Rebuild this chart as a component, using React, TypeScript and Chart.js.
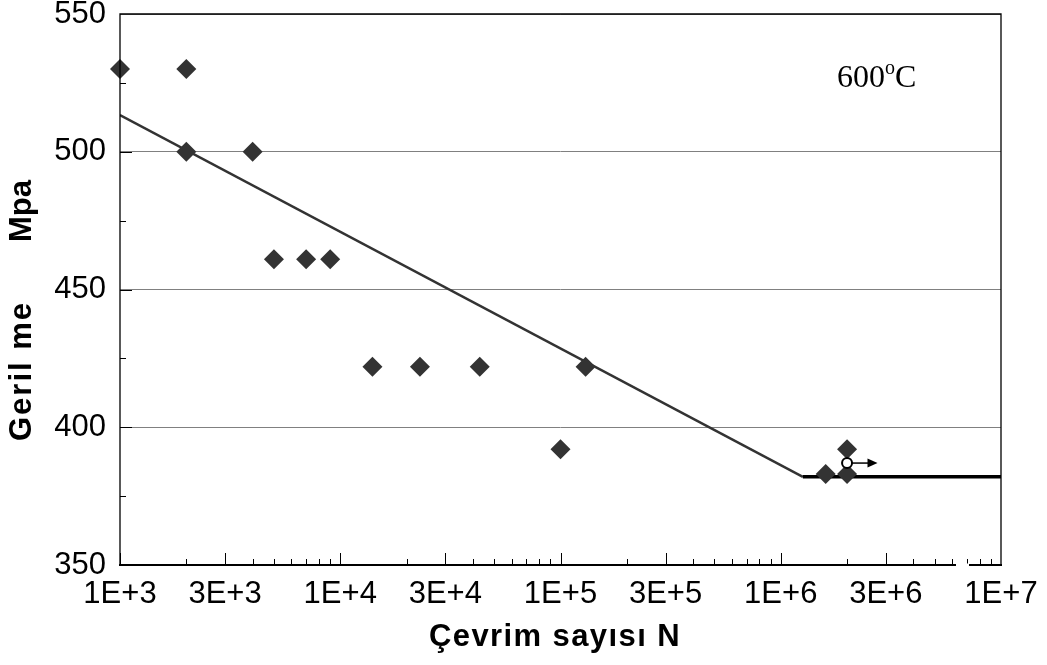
import React, { useEffect, useRef } from "react";
import { Chart, registerables } from "chart.js";

Chart.register(...registerables);

// Fatigue data (cycles N, stress MPa)
const cyclesN = [1000, 2000, 2000, 4000, 5000, 7000, 9000, 14000, 23000, 43000, 130000, 100000, 1600000, 2000000, 2000000];
const stressMPa = [530, 530, 500, 500, 461, 461, 461, 422, 422, 422, 422, 392, 383, 383, 392];

// Fitted S-N line and endurance plateau
const fitN = [1000, 1260000];
const fitS = [513.3, 382];
const plateauN = [1260000, 10000000];
const plateauS = [382, 382];

// Run-out specimen (open circle with arrow)
const runoutN = [2000000];
const runoutS = [387];
const runoutArrowEndN = 2750000;

// Axis ticks
const xTickValues = [1e3, 3e3, 1e4, 3e4, 1e5, 3e5, 1e6, 3e6, 1e7];
const yTickValues = [350, 400, 450, 500, 550];

const tempLabel = { n: 1800000, s: 523.5 };

const toPts = (xs: number[], ys: number[]) => xs.map((x, i) => ({ x, y: ys[i] }));

const fmtSci = (v: number) => {
  const e = Math.floor(Math.log10(v) + 1e-9);
  const m = Math.round(v / Math.pow(10, e));
  return `${m}E+${e}`;
};

const decorPlugin = {
  id: "decor",
  afterDraw(chart: any) {
    const { ctx, chartArea, scales } = chart;
    const { left, right, top, bottom } = chartArea;
    const xs = scales.x;
    const ys = scales.y;
    ctx.save();
    // minor/major ticks on x (inward)
    ctx.strokeStyle = "#000";
    ctx.lineWidth = 1;
    for (let e = 3; e < 7; e++) {
      for (let m = 1; m <= 9; m++) {
        const v = m * Math.pow(10, e);
        const px = Math.round(xs.getPixelForValue(v)) + 0.5;
        const len = m === 1 || m === 3 ? 12 : 6;
        ctx.beginPath();
        ctx.moveTo(px, bottom);
        ctx.lineTo(px, bottom - len);
        ctx.stroke();
      }
    }
    // y ticks (inward)
    for (let v = 375; v < 550; v += 25) {
      const py = Math.round(ys.getPixelForValue(v)) + 0.5;
      const len = v % 50 === 0 ? 12 : 6;
      ctx.beginPath();
      ctx.moveTo(left, py);
      ctx.lineTo(left + len, py);
      ctx.stroke();
    }
    // frame
    ctx.lineWidth = 1.3;
    ctx.beginPath();
    ctx.moveTo(left, bottom);
    ctx.lineTo(left, top);
    ctx.lineTo(right, top);
    ctx.lineTo(right, bottom);
    ctx.stroke();
    ctx.lineWidth = 1.8;
    ctx.beginPath();
    ctx.moveTo(left - 1, bottom);
    ctx.lineTo(right + 1, bottom);
    ctx.stroke();
    // small gap artifact in the x axis line
    ctx.fillStyle = "#fff";
    ctx.fillRect(956, bottom - 1.5, 13, 3.5);

    // run-out arrow
    const cx = xs.getPixelForValue(runoutN[0]);
    const cy = ys.getPixelForValue(runoutS[0]);
    const ex = xs.getPixelForValue(runoutArrowEndN);
    ctx.strokeStyle = "#000";
    ctx.fillStyle = "#000";
    ctx.lineWidth = 1.5;
    ctx.beginPath();
    ctx.moveTo(cx + 5, cy);
    ctx.lineTo(ex - 8, cy);
    ctx.stroke();
    ctx.beginPath();
    ctx.moveTo(ex, cy);
    ctx.lineTo(ex - 10, cy - 4.5);
    ctx.lineTo(ex - 10, cy + 4.5);
    ctx.closePath();
    ctx.fill();

    // temperature label
    const tx = xs.getPixelForValue(tempLabel.n);
    const ty = ys.getPixelForValue(tempLabel.s);
    ctx.fillStyle = "#000";
    ctx.textBaseline = "alphabetic";
    ctx.textAlign = "left";
    ctx.font = '32px "Liberation Serif", "Times New Roman", serif';
    ctx.fillText("600", tx, ty);
    const w600 = ctx.measureText("600").width;
    ctx.font = '20px "Liberation Serif", "Times New Roman", serif';
    ctx.fillText("o", tx + w600, ty - 13);
    const wo = ctx.measureText("o").width;
    ctx.font = '32px "Liberation Serif", "Times New Roman", serif';
    ctx.fillText("C", tx + w600 + wo, ty);

    // axis titles
    ctx.font = 'bold 31px "Liberation Sans", Arial, sans-serif';
    ctx.textAlign = "center";
    ctx.textBaseline = "middle";
    ctx.letterSpacing = "1.4px";
    ctx.fillText("Çevrim sayısı N", 555, 637);
    ctx.letterSpacing = "2px";
    ctx.save();
    ctx.translate(22, 371);
    ctx.rotate(-Math.PI / 2);
    ctx.fillText("Geril me", 0, 0);
    ctx.restore();
    ctx.letterSpacing = "0px";
    ctx.save();
    ctx.translate(22, 211);
    ctx.rotate(-Math.PI / 2);
    ctx.fillText("Mpa", 0, 0);
    ctx.restore();
    ctx.restore();
  },
};

export default function App() {
  const ref = useRef<HTMLCanvasElement>(null);
  useEffect(() => {
    document.body.style.margin = "0";
    const chart = new Chart(ref.current as HTMLCanvasElement, {
      type: "scatter",
      data: {
        datasets: [
          {
            data: toPts(fitN, fitS),
            showLine: true,
            borderColor: "#333333",
            borderWidth: 2.4,
            pointRadius: 0,
            order: 3,
          },
          {
            data: toPts(plateauN, plateauS),
            showLine: true,
            borderColor: "#000000",
            borderWidth: 3.5,
            pointRadius: 0,
            order: 2,
          },
          {
            data: toPts(cyclesN, stressMPa),
            showLine: false,
            pointStyle: "rectRot",
            pointRadius: 10,
            backgroundColor: "#333333",
            borderWidth: 0,
            clip: false,
            order: 1,
          },
          {
            data: toPts(runoutN, runoutS),
            showLine: false,
            pointStyle: "circle",
            pointRadius: 5,
            backgroundColor: "#ffffff",
            borderColor: "#000000",
            borderWidth: 2,
            order: 0,
          },
        ] as any,
      },
      options: {
        animation: false,
        responsive: false,
        devicePixelRatio: 1,
        layout: { padding: { left: 0, top: 14, right: 46, bottom: 0 } },
        plugins: { legend: { display: false }, tooltip: { enabled: false } },
        scales: {
          x: {
            type: "logarithmic",
            min: 1000,
            max: 10000000,
            afterBuildTicks: (scale: any) => {
              scale.ticks = xTickValues.map((v) => ({ value: v }));
            },
            afterFit: (scale: any) => {
              scale.height = 100;
              scale.paddingLeft = 0;
              scale.paddingRight = 0;
            },
            grid: { display: false, drawTicks: false },
            border: { display: false },
            ticks: {
              autoSkip: false,
              maxRotation: 0,
              padding: 11,
              color: "#000",
              font: { family: '"Liberation Sans", Arial, sans-serif', size: 31 },
              callback: (v: any) => fmtSci(Number(v)),
            },
          },
          y: {
            type: "linear",
            min: 350,
            max: 550,
            afterBuildTicks: (scale: any) => {
              scale.ticks = yTickValues.map((v) => ({ value: v }));
            },
            afterFit: (scale: any) => {
              scale.width = 120;
              scale.paddingTop = 0;
              scale.paddingBottom = 0;
            },
            grid: { color: "#808080", lineWidth: 1, drawTicks: false },
            border: { display: false },
            ticks: {
              padding: 14,
              color: "#000",
              font: { family: '"Liberation Sans", Arial, sans-serif', size: 31 },
            },
          },
        },
      } as any,
      plugins: [decorPlugin],
    });
    return () => chart.destroy();
  }, []);
  return (
    <canvas
      ref={ref}
      width={1047}
      height={665}
      style={{ position: "absolute", left: 0, top: 0, display: "block" }}
    />
  );
}
